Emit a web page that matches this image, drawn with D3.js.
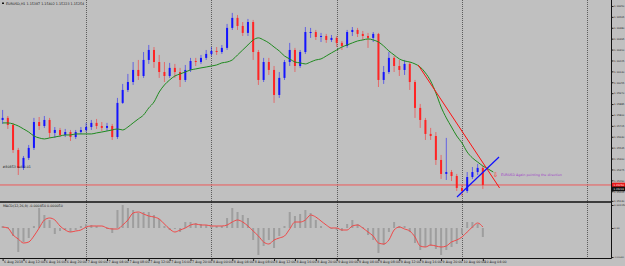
<!DOCTYPE html>
<html>
<head>
<meta charset="utf-8">
<script src="https://cdn.jsdelivr.net/npm/d3@7"></script>
<style>
body { margin: 0; background: #c0c0c0; }
svg { display: block; }
text { font-family: "DejaVu Sans", sans-serif; }
</style>
</head>
<body>
<div class="figure"></div>
<script>
// EURUSD H1, one value per bar (bar 0 = 6 Aug 08:00)
var firstOpen = 1.15761
var closes = [1.15777, 1.15722, 1.15527, 1.15387, 1.15465, 1.15543, 1.15745, 1.15714, 1.15761, 1.15660,
    1.15683, 1.15644, 1.15667, 1.15628, 1.15667, 1.15683, 1.15706, 1.15738, 1.15714, 1.15699,
    1.15714, 1.15628, 1.15894, 1.15995, 1.16057, 1.16151, 1.16104, 1.16229, 1.16307, 1.16213,
    1.16135, 1.16104, 1.16167, 1.16135, 1.16073, 1.16151, 1.16221, 1.16213, 1.16245, 1.16276,
    1.16299, 1.16291, 1.16323, 1.16479, 1.16557, 1.16494, 1.16440, 1.16525, 1.16291, 1.16073,
    1.16213, 1.16151, 1.15956, 1.16089, 1.16213, 1.16307, 1.16182, 1.16291, 1.16447, 1.16447,
    1.16408, 1.16416, 1.16385, 1.16401, 1.16362, 1.16338, 1.16447, 1.16463, 1.16432, 1.16416,
    1.16401, 1.16432, 1.16073, 1.16135, 1.16245, 1.16182, 1.16151, 1.16198, 1.16057, 1.15855,
    1.15761, 1.15652, 1.15636, 1.15449, 1.15340, 1.15355, 1.15324, 1.15231, 1.15207, 1.15316,
    1.15355, 1.15387, 1.15254]
var highs = [1.15839, 1.15792, 1.15738, 1.15543, 1.15480, 1.15566, 1.15777, 1.15784, 1.15792, 1.15777,
    1.15706, 1.15699, 1.15691, 1.15683, 1.15683, 1.15706, 1.15738, 1.15761, 1.15769, 1.15745,
    1.15738, 1.15730, 1.15933, 1.16042, 1.16120, 1.16213, 1.16229, 1.16291, 1.16346, 1.16330,
    1.16268, 1.16213, 1.16206, 1.16198, 1.16167, 1.16190, 1.16245, 1.16245, 1.16268, 1.16307,
    1.16330, 1.16330, 1.16346, 1.16510, 1.16596, 1.16580, 1.16525, 1.16549, 1.16541, 1.16307,
    1.16245, 1.16245, 1.16182, 1.16135, 1.16229, 1.16362, 1.16323, 1.16307, 1.16486, 1.16479,
    1.16463, 1.16440, 1.16432, 1.16424, 1.16416, 1.16377, 1.16463, 1.16486, 1.16479, 1.16455,
    1.16440, 1.16447, 1.16440, 1.16182, 1.16291, 1.16260, 1.16229, 1.16229, 1.16213, 1.16073,
    1.15886, 1.15777, 1.15699, 1.15667, 1.15488, 1.15621, 1.15371, 1.15340, 1.15254, 1.15355,
    1.15394, 1.15418, 1.15402]
var lows = [1.15730, 1.15691, 1.15504, 1.15332, 1.15371, 1.15449, 1.15527, 1.15683, 1.15699, 1.15621,
    1.15621, 1.15628, 1.15628, 1.15597, 1.15613, 1.15652, 1.15667, 1.15683, 1.15691, 1.15675,
    1.15675, 1.15605, 1.15613, 1.15886, 1.15979, 1.16034, 1.16073, 1.16089, 1.16198, 1.16167,
    1.16089, 1.16057, 1.16089, 1.16089, 1.16018, 1.16057, 1.16135, 1.16182, 1.16198, 1.16229,
    1.16260, 1.16268, 1.16276, 1.16307, 1.16463, 1.16463, 1.16416, 1.16416, 1.16229, 1.16034,
    1.16057, 1.16112, 1.15894, 1.15933, 1.16073, 1.16182, 1.16135, 1.16167, 1.16276, 1.16401,
    1.16385, 1.16369, 1.16362, 1.16369, 1.16330, 1.16307, 1.16323, 1.16416, 1.16408, 1.16385,
    1.16323, 1.16369, 1.16018, 1.16042, 1.16120, 1.16135, 1.16104, 1.16112, 1.15995, 1.15777,
    1.15699, 1.15605, 1.15605, 1.15410, 1.15301, 1.15293, 1.15285, 1.15207, 1.15168, 1.15192,
    1.15301, 1.15332, 1.15223]

// green moving average (drawn shifted two bars past the last candle)
var maValues = [1.15738, 1.15738, 1.15730, 1.15714, 1.15691, 1.15667, 1.15636, 1.15621, 1.15613, 1.15621,
    1.15628, 1.15636, 1.15644, 1.15644, 1.15652, 1.15652, 1.15652, 1.15652, 1.15660, 1.15667,
    1.15675, 1.15683, 1.15691, 1.15683, 1.15706, 1.15738, 1.15769, 1.15800, 1.15855, 1.15901,
    1.15979, 1.16034, 1.16073, 1.16104, 1.16120, 1.16135, 1.16151, 1.16159, 1.16167, 1.16174,
    1.16182, 1.16190, 1.16206, 1.16213, 1.16229, 1.16268, 1.16307, 1.16346, 1.16385, 1.16401,
    1.16385, 1.16362, 1.16330, 1.16299, 1.16260, 1.16237, 1.16213, 1.16206, 1.16198, 1.16213,
    1.16229, 1.16237, 1.16260, 1.16284, 1.16307, 1.16330, 1.16346, 1.16362, 1.16377, 1.16385,
    1.16393, 1.16385, 1.16369, 1.16338, 1.16299, 1.16268, 1.16237, 1.16221, 1.16213, 1.16198,
    1.16174, 1.16128, 1.16065, 1.15972, 1.15862, 1.15777, 1.15706, 1.15636, 1.15582, 1.15511,
    1.15465, 1.15433, 1.15402, 1.15379, 1.15355]

// MACD(12,26,9)
var macdHist = [0.00010, 0.00005, -0.00040, -0.00120, -0.00070, -0.00050, 0.00010, 0.00100, 0.00065, 0.00040,
    -0.00030, -0.00015, -0.00010, -0.00020, -0.00010, 0.00010, 0.00020, 0.00015, 0.00010, 0.00000,
    -0.00005, -0.00025, 0.00090, 0.00115, 0.00100, 0.00090, 0.00075, 0.00080, 0.00080, 0.00065,
    0.00045, 0.00010, -0.00010, -0.00005, -0.00020, 0.00030, 0.00030, 0.00025, 0.00020, 0.00015,
    0.00015, 0.00010, 0.00010, 0.00050, 0.00100, 0.00080, 0.00065, 0.00050, -0.00060, -0.00135,
    -0.00090, -0.00060, -0.00100, -0.00040, 0.00010, 0.00080, 0.00060, 0.00070, 0.00090, 0.00075,
    0.00040, 0.00010, 0.00000, -0.00005, -0.00010, -0.00015, 0.00020, 0.00040, 0.00020, 0.00005,
    -0.00035, -0.00060, -0.00125, -0.00085, -0.00020, 0.00030, 0.00010, 0.00010, -0.00020, -0.00075,
    -0.00110, -0.00095, -0.00090, -0.00105, -0.00135, -0.00110, -0.00095, -0.00080, -0.00030, 0.00030,
    0.00030, 0.00020, -0.00045]
var macdSignal = [0.00005, 0.00000, -0.00035, -0.00055, -0.00075, -0.00070, -0.00040, 0.00000, 0.00040, 0.00050,
    0.00040, 0.00010, -0.00010, -0.00020, -0.00015, -0.00010, 0.00005, 0.00010, 0.00010, 0.00010,
    0.00000, -0.00005, -0.00005, 0.00015, 0.00040, 0.00075, 0.00080, 0.00070, 0.00060, 0.00055,
    0.00045, 0.00020, -0.00005, -0.00020, -0.00010, 0.00000, 0.00015, 0.00020, 0.00015, 0.00015,
    0.00010, 0.00010, 0.00010, 0.00015, 0.00030, 0.00040, 0.00030, 0.00010, -0.00015, -0.00040,
    -0.00070, -0.00080, -0.00060, -0.00050, -0.00040, -0.00005, 0.00030, 0.00030, 0.00040, 0.00065,
    0.00055, 0.00035, 0.00015, 0.00000, 0.00000, -0.00010, -0.00010, 0.00010, 0.00015, 0.00000,
    -0.00020, -0.00040, -0.00075, -0.00080, -0.00060, -0.00010, 0.00005, -0.00005, -0.00015, -0.00045,
    -0.00090, -0.00095, -0.00085, -0.00090, -0.00095, -0.00090, -0.00070, -0.00060, -0.00045, -0.00020,
    0.00005, 0.00025, 0.00005]

// drawn objects: [bar, price]
var redTrend = [[79.6, 1.16190], [95.2, 1.15231]]
var blueTrend = [[87.05, 1.15160], [95.1, 1.15472]]
var note = {bar: 95.5, price: 1.15332, text: "EURUSD Again pointing the direction"}
var arrowAt = {bar: 94.4, price: 1.15332}
var orderLabel = {bar: 0, price: 1.15394, text: "#80853 sell 0.01"}
var bidPrice = 1.15254
var orderPrice = 1.15223

var daySeparators = [16, 40, 64, 88, 112]
var priceTicks = [1.16650, 1.16565, 1.16480, 1.16395, 1.16310, 1.16225, 1.16140, 1.16055, 1.15970,
    1.15885, 1.15800, 1.15715, 1.15630, 1.15545, 1.15460, 1.15375, 1.15290, 1.15205, 1.15130]
var macdTicks = [0.00115, 0, -0.00145]
var macdTickLabels = ["0.001150", "0.00", "-0.001450"]
var timeTicks = [0, 4, 8, 12, 16, 20, 24, 28, 32, 36, 40, 44, 48, 52, 56, 60, 64, 68, 72, 76, 80, 84, 88, 92]
var timeLabels = ["6 Aug 2018", "6 Aug 12:00", "6 Aug 16:00", "6 Aug 20:00", "7 Aug 00:00", "7 Aug 04:00",
    "7 Aug 08:00", "7 Aug 12:00", "7 Aug 16:00", "7 Aug 20:00", "8 Aug 00:00", "8 Aug 04:00",
    "8 Aug 08:00", "8 Aug 12:00", "8 Aug 16:00", "8 Aug 20:00", "9 Aug 00:00", "9 Aug 04:00",
    "9 Aug 08:00", "9 Aug 12:00", "9 Aug 16:00", "9 Aug 20:00", "10 Aug 00:00", "10 Aug 04:00"]

var dim = {w: 625, h: 266}
var pane = {
    right: 611,
    mainTop: 2,
    mainBottom: 201,
    macdTop: 203,
    macdBottom: 258,
}
var col = {
    bull: "#1414ff",
    bear: "#ff2424",
    ma: "#1f8a1f",
    hist: "#9e9e9e",
    signal: "#f04848",
    text: "#202020",
    note: "#a040c8",
}
var fs = 3.3       // chart texts
var axisFs = 2.5   // right-hand price labels, must fit in 14px

var svg = d3.select("div.figure")
    .append("svg")
    .attr("width", dim.w)
    .attr("height", dim.h)

var x = d3.scaleLinear().domain([-0.5, 116.55]).range([0, pane.right])
var y = d3.scaleLinear().domain([1.15129, 1.16681]).range([pane.mainBottom, pane.mainTop])
var yM = d3.scaleLinear().domain([-0.0015, 0.00125]).range([pane.macdBottom, pane.macdTop])

svg.append("defs").append("clipPath").attr("id", "mainclip")
    .append("rect").attr("x", 0).attr("y", 0).attr("width", pane.right).attr("height", pane.mainBottom + 1)

// day separators
svg.append("g")
    .selectAll("line")
    .data(daySeparators).enter()
    .append("line")
    .attr("x1", function(d) { return Math.round(x(d)) + 0.5 })
    .attr("x2", function(d) { return Math.round(x(d)) + 0.5 })
    .attr("y1", 0)
    .attr("y2", pane.macdBottom)
    .attr("stroke", "#5c5c5c")
    .attr("stroke-dasharray", "1,1")

var main = svg.append("g").attr("clip-path", "url(#mainclip)")

// bid line
main.append("line")
    .attr("x1", 0).attr("x2", pane.right)
    .attr("y1", y(bidPrice)).attr("y2", y(bidPrice))
    .attr("stroke", "#ec5a5a")
    .attr("stroke-width", 1)

// candles
var bars = closes.map(function(c, i) {
    return {i: i, o: i === 0 ? firstOpen : closes[i - 1], h: highs[i], l: lows[i], c: c}
})
var candle = main.append("g").selectAll("g")
    .data(bars).enter()
    .append("g")
candle.append("line")
    .attr("x1", function(d) { return x(d.i) })
    .attr("x2", function(d) { return x(d.i) })
    .attr("y1", function(d) { return y(d.h) })
    .attr("y2", function(d) { return y(d.l) })
    .attr("stroke", function(d) { return d.c >= d.o ? col.bull : col.bear })
    .attr("stroke-opacity", 0.55)
    .attr("stroke-width", 1)
candle.append("rect")
    .attr("x", function(d) { return x(d.i) - 1 })
    .attr("width", 2)
    .attr("y", function(d) { return y(Math.max(d.o, d.c)) })
    .attr("height", function(d) { return Math.max(1, Math.abs(y(d.o) - y(d.c))) })
    .attr("fill", function(d) { return d.c >= d.o ? col.bull : col.bear })

// moving average
main.append("path")
    .datum(maValues)
    .attr("d", d3.line()
        .x(function(d, i) { return x(i) })
        .y(function(d) { return y(d) })
        .curve(d3.curveMonotoneX))
    .attr("fill", "none")
    .attr("stroke", col.ma)
    .attr("stroke-width", 1)

// trend lines
var trendLine = d3.line()
    .x(function(d) { return x(d[0]) })
    .y(function(d) { return y(d[1]) })
main.append("path").datum(redTrend).attr("d", trendLine)
    .attr("stroke", "#ff1010").attr("stroke-width", 1).attr("fill", "none")
main.append("path").datum(blueTrend).attr("d", trendLine)
    .attr("stroke", "#1010ff").attr("stroke-width", 1.2).attr("fill", "none")

main.append("text")
    .attr("x", x(arrowAt.bar))
    .attr("y", y(arrowAt.price) + 2.2)
    .attr("text-anchor", "middle")
    .style("font-size", "6.5px")
    .attr("fill", "#ff2020")
    .text("\u21e9")

main.append("text")
    .attr("x", x(note.bar))
    .attr("y", y(note.price) + 1.1)
    .style("font-size", fs + "px")
    .attr("fill", col.note)
    .text(note.text)

main.append("text")
    .attr("x", x(orderLabel.bar))
    .attr("y", y(orderLabel.price) + 1.1)
    .style("font-size", fs + "px")
    .attr("fill", col.text)
    .text(orderLabel.text)

// title
svg.append("rect").attr("x", 2).attr("y", 2.5).attr("width", 2).attr("height", 1.5).attr("fill", "#111")
var last = bars[bars.length - 1]
svg.append("text")
    .attr("x", 6)
    .attr("y", 5)
    .style("font-size", fs + "px")
    .attr("fill", col.text)
    .text("EURUSD,H1  " + [last.o, last.h, last.l, last.c].map(function(v) { return v.toFixed(5) }).join(" "))

// MACD
var macd = svg.append("g")
macd.append("g").selectAll("rect")
    .data(macdHist).enter()
    .append("rect")
    .attr("x", function(d, i) { return x(i) - 1 })
    .attr("width", 2)
    .attr("y", function(d) { return Math.min(yM(d), yM(0)) })
    .attr("height", function(d) { return Math.abs(yM(d) - yM(0)) })
    .attr("fill", col.hist)
macd.append("path")
    .datum(macdSignal)
    .attr("d", d3.line()
        .x(function(d, i) { return x(i) })
        .y(function(d) { return yM(d) })
        .curve(d3.curveMonotoneX))
    .attr("fill", "none")
    .attr("stroke", col.signal)
    .attr("stroke-width", 1)
macd.append("text")
    .attr("x", 3)
    .attr("y", pane.macdTop + 4)
    .style("font-size", fs + "px")
    .attr("fill", col.text)
    .text("MACD(12,26,9) " + macdHist[macdHist.length - 1].toFixed(6) + " " + macdSignal[macdSignal.length - 1].toFixed(6))

// frame lines
svg.append("line").attr("x1", 0).attr("x2", pane.right).attr("y1", 202).attr("y2", 202)
    .attr("stroke", "#111").attr("stroke-width", 1.3)
svg.append("line").attr("x1", 0).attr("x2", pane.right + 0.5).attr("y1", pane.macdBottom + 0.5).attr("y2", pane.macdBottom + 0.5)
    .attr("stroke", "#111")
svg.append("line").attr("x1", pane.right + 0.5).attr("x2", pane.right + 0.5).attr("y1", 0).attr("y2", pane.macdBottom + 0.5)
    .attr("stroke", "#111")

// price axis
var yAxis = d3.axisRight(y)
    .tickValues(priceTicks)
    .tickFormat(d3.format(".5f"))
    .tickSize(2)
    .tickPadding(0.5)
var gy = svg.append("g")
    .attr("transform", "translate(" + (pane.right + 0.5) + ",0)")
    .style("font-size", axisFs + "px")
    .call(yAxis)
var macdAxis = d3.axisRight(yM)
    .tickValues(macdTicks)
    .tickFormat(function(d, i) { return macdTickLabels[i] })
    .tickSize(2)
    .tickPadding(0.5)
var gm = svg.append("g")
    .attr("transform", "translate(" + (pane.right + 0.5) + ",0)")
    .style("font-size", axisFs + "px")
    .call(macdAxis)
;[gy, gm].forEach(function(g) {
    g.select(".domain").remove()
    g.selectAll("line").attr("stroke", "#222")
    g.selectAll("text")
        .attr("fill", col.text)
        .style("font-family", "DejaVu Sans")
})
// the long negative MACD label gets a smaller size so it stays inside the window
gm.selectAll("text")
    .filter(function() { return this.textContent.length > 8 })
    .style("font-size", "1.95px")

// price boxes
var boxes = [{p: bidPrice, fill: "#e81818"}, {p: orderPrice, fill: "#111"}]
var box = svg.append("g").selectAll("g").data(boxes).enter().append("g")
box.append("rect")
    .attr("x", pane.right + 1)
    .attr("y", function(d) { return y(d.p) - 2.3 })
    .attr("width", dim.w - pane.right - 1)
    .attr("height", 4.6)
    .attr("fill", function(d) { return d.fill })
box.append("text")
    .attr("x", pane.right + 2.5)
    .attr("y", function(d) { return y(d.p) + 0.9 })
    .style("font-size", axisFs + "px")
    .attr("fill", "#fff")
    .text(function(d) { return d.p.toFixed(5) })

// time axis
var xAxis = d3.axisBottom(x)
    .tickValues(timeTicks)
    .tickFormat(function(d, i) { return timeLabels[i] })
    .tickSize(2.5)
    .tickPadding(1)
var gx = svg.append("g")
    .attr("transform", "translate(0," + (pane.macdBottom + 0.5) + ")")
    .style("font-size", fs + "px")
    .call(xAxis)
gx.select(".domain").remove()
gx.selectAll("line").attr("stroke", "#222")
gx.selectAll("text")
    .attr("text-anchor", "start")
    .attr("x", 1)
    .attr("y", 2.2)
    .attr("fill", col.text)
    .style("font-family", "DejaVu Sans")
</script>
</body>
</html>
